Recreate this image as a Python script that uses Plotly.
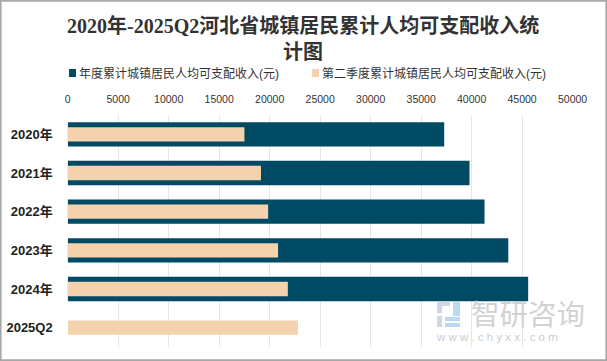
import plotly.graph_objects as go

categories = ["2020年", "2021年", "2022年", "2023年", "2024年", "2025Q2"]
annual = [37286, 39791, 41278, 43631, 45600, None]
q2 = [17500, 19140, 19850, 20830, 21800, 22800]
annual_name = "年度累计城镇居民人均可支配收入(元)"
q2_name = "第二季度累计城镇居民人均可支配收入(元)"
title = "2020年-2025Q2河北省城镇居民累计人均可支配收入统<br>计图"

W, H = 607, 361
L, R, T, B = 67.7, 572.6, 115, 347
SANS = "Liberation Sans, Noto Sans CJK SC, sans-serif"

fig = go.Figure()
fig.add_bar(y=categories, x=annual, name=annual_name, orientation="h",
            marker=dict(color="#014a63", line_width=0), width=0.63)
fig.add_bar(y=categories, x=q2, name=q2_name, orientation="h",
            marker=dict(color="#f4d2ae", line_width=0), width=0.37)

def px(x): return x / W
def py(y): return 1 - y / H

def note(text, x, y, size, color, family=SANS, anchor="left", **font):
    return dict(text=text, x=px(x), y=py(y), xref="paper", yref="paper", xanchor=anchor,
                yanchor="middle", showarrow=False, align="center",
                font=dict(family=family, size=size, color=color, **font))

def box(x0, y0, x1, y1, color):
    return dict(type="rect", xref="paper", yref="paper", x0=px(x0), x1=px(x1), y0=py(y0), y1=py(y1),
                line_width=0, fillcolor=color, layer="above")

ann = [
    note(title, 303, 38, 20, "#333333", family="Liberation Serif, Noto Sans CJK SC, serif",
         anchor="center", weight="bold"),
    note(annual_name, 77, 73, 12, "#333333"),
    note(q2_name, 320, 73, 12, "#333333"),
    note("智研咨询", 469, 312, 28.5, "#d2d2d2", family="Noto Sans CJK SC"),
    note("w w w . c h y x x . c o m", 434, 337, 11.5, "#cccccc"),
]

shapes = [
    dict(type="rect", xref="paper", yref="paper", x0=0.001, x1=0.999, y0=0.002, y1=0.998,
         line=dict(color="#a8a8a8", width=2), layer="above"),
    box(69, 69, 76, 77, "#014a63"),
    box(312, 69, 319, 77, "#f4d2ae"),
    box(437, 302, 450, 306, "#cfd6e6"),
    box(437, 306, 442, 313, "#cfd6e6"),
    box(437, 316, 442, 327, "#cfd6e6"),
    box(453, 302, 460, 316, "#bcd9ef"),
    box(445, 317, 460, 321, "#bcd9ef"),
    box(445, 323, 460, 327, "#bcd9ef"),
]

fig.update_layout(
    width=W, height=H, autosize=False,
    margin=dict(l=0, r=0, t=0, b=0),
    paper_bgcolor="white", plot_bgcolor="white",
    barmode="overlay", showlegend=False,
    font=dict(family=SANS),
    annotations=ann, shapes=shapes,
    xaxis=dict(domain=[px(L), px(R)], range=[0, 50000], dtick=5000, side="top",
               showgrid=True, gridcolor="#e6e6e6", gridwidth=1, zeroline=False, showline=False,
               tickformat="d", ticks="", ticklabelstandoff=9, automargin=False,
               tickfont=dict(family=SANS, size=10.5, color="#333333"), anchor="y"),
    yaxis=dict(domain=[py(B), py(T)], autorange="reversed", categoryorder="array", categoryarray=categories,
               showgrid=False, showline=False, ticks="", ticklabelstandoff=14, automargin=False,
               tickfont=dict(family=SANS, size=13, color="#222222", weight="bold")),
)
fig.write_html("out.html", post_script="document.body.style.margin='0';",
               config={"displayModeBar": False})
